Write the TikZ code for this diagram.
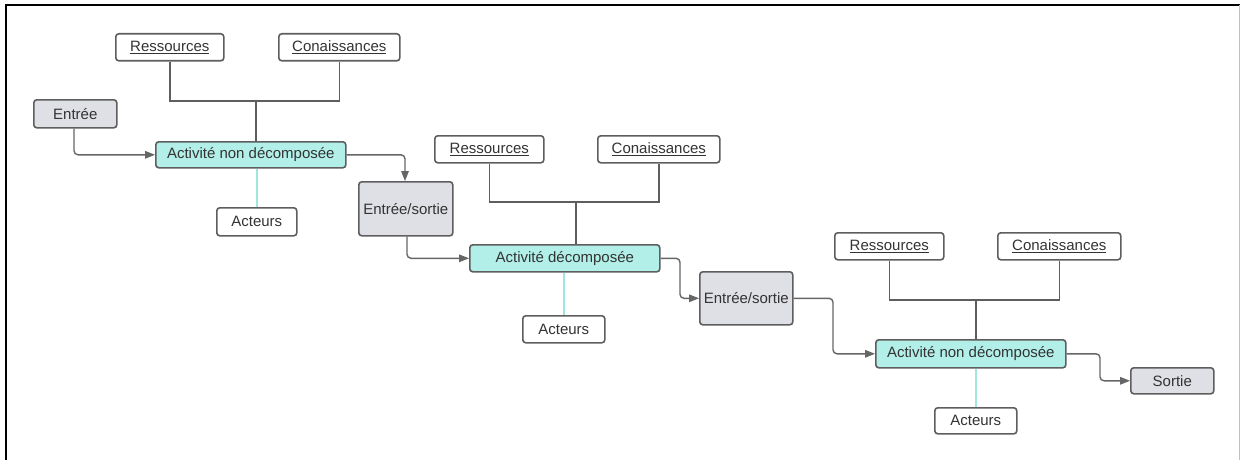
\documentclass[tikz,border=0pt]{standalone}
\usepackage{fontspec}
\setmainfont{Liberation Sans}
\usetikzlibrary{arrows.meta}
\definecolor{boxline}{HTML}{5E5E5E}
\definecolor{wireline}{HTML}{666666}
\definecolor{actfill}{HTML}{B2EFE8}
\definecolor{iofill}{HTML}{DEE0E5}
\definecolor{txt}{HTML}{333333}
\definecolor{actorline}{HTML}{9FE6DD}
\tikzset{
  box/.style={draw=boxline, line width=1.6pt, rounded corners=3pt, inner sep=0pt,
    text=txt, font=\fontsize{15}{17}\selectfont, anchor=north west},
  res/.style={box, fill=white},
  act/.style={box, fill=actfill},
  io/.style={box, fill=iofill},
  actor/.style={box, fill=white},
  flow/.style={draw=wireline, line width=1.4pt, rounded corners=4pt,
    -{Triangle[length=10pt,width=7.5pt]}},
  bracket/.style={draw=boxline, line width=1.6pt},
  actlink/.style={draw=actorline, line width=1.5pt}
}
\newcommand{\ul}[1]{\underline{#1}}
\begin{document}
\begin{tikzpicture}[x=1pt, y=-1pt]
\useasboundingbox (0,0) rectangle (1240,460);
\fill[white] (0,0) rectangle (1240,460);
% frame
\draw[black, line width=2.2pt] (6,460) -- (6,5) -- (1240,5);
\draw[black!25, line width=0.8pt] (1239,5) -- (1239,460);

% ---- first activity ----
\node[res, minimum width=108pt, minimum height=27pt] (r1) at (115,33) {\ul{Ressources}};
\node[res, minimum width=121pt, minimum height=27pt] (c1) at (278,33) {\ul{Conaissances}};
\node[io, minimum width=83pt, minimum height=28pt] (in) at (33,99) {Entrée};
\node[act, minimum width=190pt, minimum height=26pt] (a1) at (155,141) {Activité non décomposée};
\node[actor, minimum width=80pt, minimum height=28pt] (ac1) at (216,207) {Acteurs};
\node[io, minimum width=94pt, minimum height=54pt] (es1) at (358,181) {Entrée/sortie};

% ---- second activity ----
\node[res, minimum width=109pt, minimum height=27pt] (r2) at (434,135) {\ul{Ressources}};
\node[res, minimum width=122pt, minimum height=27pt] (c2) at (597,135) {\ul{Conaissances}};
\node[act, minimum width=190pt, minimum height=27pt] (a2) at (469,244) {Activité décomposée};
\node[actor, minimum width=82pt, minimum height=27pt] (ac2) at (522,315) {Acteurs};
\node[io, minimum width=93pt, minimum height=53pt] (es2) at (699,271) {Entrée/sortie};

% ---- third activity ----
\node[res, minimum width=109pt, minimum height=27pt] (r3) at (834,232) {\ul{Ressources}};
\node[res, minimum width=123pt, minimum height=27pt] (c3) at (997,232) {\ul{Conaissances}};
\node[act, minimum width=190pt, minimum height=28pt] (a3) at (875,339) {Activité non décomposée};
\node[actor, minimum width=82pt, minimum height=26pt] (ac3) at (934,407) {Acteurs};
\node[io, minimum width=83pt, minimum height=26pt] (out) at (1130,367) {Sortie};

% resources and knowledge feeding each activity
\coordinate (j1) at (256,101);
\draw[bracket] (r1.south) |- (j1) -| (c1.south);
\draw[bracket] (j1) -- (j1 |- a1.north);
\coordinate (j2) at (576,202);
\draw[bracket] (r2.south) |- (j2) -| (c2.south);
\draw[bracket] (j2) -- (j2 |- a2.north);
\coordinate (j3) at (976,300);
\draw[bracket] (r3.south) |- (j3) -| (c3.south);
\draw[bracket] (j3) -- (j3 |- a3.north);

% actors
\draw[actlink] (a1.south -| ac1.north) -- (ac1.north);
\draw[actlink] (a2.south -| ac2.north) -- (ac2.north);
\draw[actlink] (a3.south -| ac3.north) -- (ac3.north);

% vertical runs of the flow connectors
\coordinate (v0) at (74,0);
\coordinate (v1) at (405,0);
\coordinate (v2) at (407,0);
\coordinate (v3) at (680,0);
\coordinate (v4) at (833,0);
\coordinate (v5) at (1100,0);

% flow of inputs and outputs
\draw[flow] (in.south -| v0) |- (a1.west);
\draw[flow] (a1.east) -| (es1.north -| v1);
\draw[flow] (es1.south -| v2) |- (a2.west);
\draw[flow] (a2.east) -- (a2.east -| v3) |- (es2.west);
\draw[flow] (es2.east) -- (es2.east -| v4) |- (a3.west);
\draw[flow] (a3.east) -- (a3.east -| v5) |- (out.west);
\end{tikzpicture}
\end{document}
